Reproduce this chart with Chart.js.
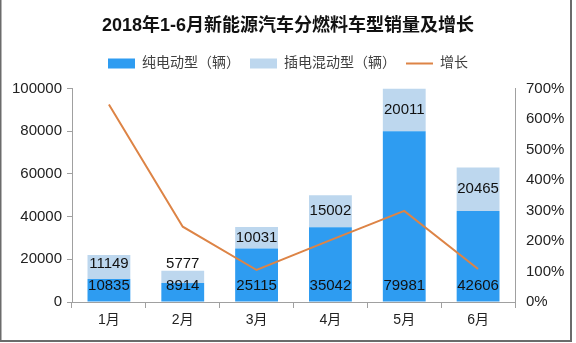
<!DOCTYPE html>
<html>
<head>
<meta charset="utf-8">
<script src="https://cdn.jsdelivr.net/npm/chart.js@4"></script>
<style>
  html, body { margin: 0; padding: 0; background: #fff; }
  #wrap { width: 576px; height: 343px; position: relative; }
</style>
</head>
<body>
<div id="wrap"><canvas id="salesChart" width="576" height="343"></canvas></div>
<script>
// ---- data ----
const months = ["1月", "2月", "3月", "4月", "5月", "6月"];
const bevSales = [10835, 8914, 25115, 35042, 79981, 42606];   // 纯电动型（辆）
const phevSales = [11149, 5777, 10031, 15002, 20011, 20465];  // 插电混动型（辆）
const growth = [648, 247, 105, 203, 299, 108];                // 增长 (%)

const FONT = "'Liberation Sans', 'Noto Sans CJK SC', sans-serif";
const axisColor = "#a0a0a0";

// value labels inside the stacked bars
const barLabels = {
    id: "barLabels",
    afterDatasetsDraw(chart) {
        const ctx = chart.ctx;
        const dark = chart.getDatasetMeta(0).data;
        const light = chart.getDatasetMeta(1).data;
        ctx.save();
        ctx.font = "15px " + FONT;
        ctx.fillStyle = "#111";
        ctx.textAlign = "center";
        ctx.textBaseline = "middle";
        dark.forEach((bar, i) => {
            const lowY = bar.base - 16;
            ctx.fillText(bevSales[i], bar.x, lowY);
            const top = light[i];
            const midY = Math.min((top.y + top.base) / 2, lowY - 22);
            ctx.fillText(phevSales[i], top.x, midY);
        });
        ctx.restore();
    }
};

// extra room under the legend
const legendGap = {
    id: "legendGap",
    beforeInit(chart) {
        const fit = chart.legend.fit;
        chart.legend.fit = function () {
            fit.call(this);
            this.height += 8;
        };
    }
};

// thin frame round the figure
const frame = {
    id: "frame",
    afterDraw(chart) {
        const ctx = chart.ctx;
        ctx.save();
        ctx.strokeStyle = "#6b6b6b";
        ctx.lineWidth = 2;
        ctx.beginPath();
        ctx.moveTo(0.5, 0);
        ctx.lineTo(0.5, 341);
        ctx.lineTo(571, 341);
        ctx.lineTo(571, 0);
        ctx.stroke();
        ctx.restore();
    }
};

new Chart(document.getElementById("salesChart"), {
    type: "bar",
    data: {
        labels: months,
        datasets: [
            {
                label: "纯电动型（辆）",
                data: bevSales,
                backgroundColor: "#2e9cf1",
                borderWidth: 0,
                stack: "s",
                yAxisID: "y",
                pointStyle: "rect"
            },
            {
                label: "插电混动型（辆）",
                data: phevSales,
                backgroundColor: "#bdd7ee",
                borderWidth: 0,
                stack: "s",
                yAxisID: "y",
                pointStyle: "rect"
            },
            {
                type: "line",
                label: "增长",
                data: growth,
                borderColor: "#dd8446",
                backgroundColor: "#dd8446",
                borderWidth: 2,
                pointRadius: 0,
                tension: 0,
                yAxisID: "y1",
                order: -1,
                pointStyle: "line"
            }
        ]
    },
    options: {
        responsive: false,
        animation: false,
        datasets: {
            bar: { categoryPercentage: 1, barPercentage: 0.58 }
        },
        layout: { padding: { top: 0, left: 0, right: 0, bottom: 0 } },
        plugins: {
            tooltip: { enabled: false },
            title: {
                display: true,
                text: "2018年1-6月新能源汽车分燃料车型销量及增长",
                color: "#111",
                font: { family: FONT, size: 18, weight: "bold" },
                padding: { top: 15, bottom: 10 }
            },
            legend: {
                display: true,
                position: "top",
                labels: {
                    usePointStyle: true,
                    pointStyleWidth: 27,
                    boxHeight: 10,
                    padding: 10,
                    color: "#404040",
                    font: { family: FONT, size: 14 },
                    sort: (a, b) => a.datasetIndex - b.datasetIndex
                }
            }
        },
        scales: {
            x: {
                stacked: true,
                grid: {
                    offset: true,
                    drawOnChartArea: false,
                    drawTicks: true,
                    tickLength: 6,
                    color: axisColor
                },
                border: { display: true, color: axisColor },
                ticks: { color: "#222", padding: 4, font: { family: FONT, size: 14 } },
                afterFit(scale) { scale.height = 41; }
            },
            y: {
                stacked: true,
                position: "left",
                min: 0,
                max: 100000,
                grid: {
                    drawOnChartArea: false,
                    drawTicks: true,
                    tickLength: 5,
                    color: axisColor
                },
                border: { display: true, color: axisColor },
                ticks: {
                    stepSize: 20000,
                    color: "#222",
                    padding: 5,
                    font: { family: FONT, size: 15 },
                    callback: v => String(v)
                },
                afterFit(scale) { scale.width = 72; }
            },
            y1: {
                position: "right",
                min: 0,
                max: 700,
                grid: { drawOnChartArea: false, drawTicks: false },
                border: { display: true, color: axisColor },
                ticks: {
                    stepSize: 100,
                    color: "#222",
                    padding: 11,
                    font: { family: FONT, size: 15 },
                    callback: v => v + "%"
                },
                afterFit(scale) { scale.width = 61; }
            }
        }
    },
    plugins: [barLabels, legendGap, frame]
});
</script>
</body>
</html>
